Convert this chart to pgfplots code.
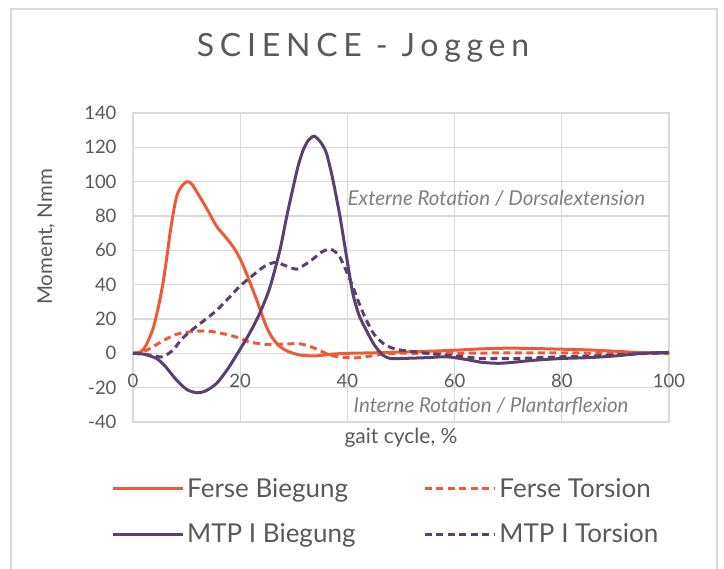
\documentclass[border=0pt]{standalone}
\usepackage{fontspec}
\setmainfont{Lato}
\usepackage{pgfplots}
\pgfplotsset{compat=1.18}

\definecolor{ferse}{HTML}{EE5A35}
\definecolor{mtp}{HTML}{5B3F6E}
\definecolor{txt}{HTML}{595959}
\definecolor{note}{HTML}{7F7F7F}
\definecolor{gridc}{HTML}{D9D9D9}

\begin{document}
\begin{tikzpicture}
\path[use as bounding box] (0pt,0pt) rectangle (724pt,569pt);
% chart frame
\draw[gridc, line width=1.5pt] (11pt,-5pt) -- (11pt,560pt) -- (717pt,560pt) -- (717pt,-5pt);
\node[txt, font=\fontsize{32}{36}\selectfont\addfontfeatures{LetterSpace=18}] at (363pt,521pt) {SCIENCE - Joggen};

\begin{axis}[
  at={(133pt,147pt)}, anchor=south west,
  scale only axis, width=536pt, height=309pt,
  xmin=0, xmax=100, ymin=-40, ymax=140,
  xtick={0,20,...,100}, ytick={-40,-20,...,140},
  grid=major, grid style={gridc, line width=1.2pt},
  axis line style={gridc, line width=1.2pt},
  major tick length=0pt,
  tick label style={txt, font=\fontsize{18.5}{22}\selectfont},
  /pgf/number format/assume math mode=true,
  xticklabel style={yshift=51pt},
  yticklabel style={xshift=-13pt},
  xlabel={gait cycle, \%},
  xlabel style={txt, font=\fontsize{21}{24}\selectfont, at={(axis description cs:0.5,-0.052)}, anchor=center},
  ylabel={Moment, Nmm},
  ylabel style={txt, font=\fontsize{20.5}{24}\selectfont, at={(axis description cs:-0.162,0.599)}, anchor=center},
  legend columns=2,
  legend cell align=left,
  legend style={at={(axis description cs:-0.041,-0.172)}, anchor=north west, draw=none, fill=none,
    inner sep=0pt, row sep=19pt,
    font=\fontsize{26}{30}\selectfont, text=txt,
    nodes={inner sep=3pt},
    /tikz/every even column/.append style={column sep=65pt}},
  legend image code/.code={\draw[#1] (0pt,0pt) -- (70pt,0pt);},
  every axis plot/.append style={line width=3pt, smooth, tension=0.45},
]
\addplot[ferse] coordinates {
(0,0) (1.5,1) (2.5,5) (3.8,15) (4.8,28) (5.6,41) (6.4,58) (7.1,74) (8.1,91) (9,97) (10.1,100)
(11,98.5) (12.5,91) (14,83) (15.6,74) (17.2,68) (18.7,62) (20,55) (21.1,47) (22.1,39) (23.1,31)
(24,23) (24.9,15.5) (26,9) (27.4,4) (29,1) (31.2,-1) (34,-1.5) (37,-0.5) (40,0) (45,0.3) (50,0.8)
(55,1.2) (60,1.8) (65,2.6) (70,3) (75,2.8) (80,2.4) (85,2) (90,1.2) (95,0.4) (100,0)
};
\addlegendentry{Ferse Biegung}
\addplot[ferse, dash pattern=on 7pt off 4.5pt] coordinates {
(0,0) (2,1) (3.8,4) (6,8) (8,11) (9.4,12) (11.5,12.8) (13.7,13) (16,12) (18.7,10) (20.5,8)
(21.8,6.5) (24,5.5) (26.1,5) (28.5,5.5) (31.2,5.5) (33,4) (34.2,2.5) (36,0) (37.3,-1.5) (40,-2.5)
(42.3,-2.5) (45.4,-1) (48,0) (55,0) (60,0) (70,0.3) (80,0.3) (90,0) (100,0)
};
\addlegendentry{Ferse Torsion}
\addplot[mtp] coordinates {
(0,0) (2,-0.5) (4.4,-3) (6,-7.5) (8.1,-15.5) (10,-21) (11.9,-23) (13.5,-22) (15.6,-17.5)
(17.7,-9) (19.9,2) (21.8,12) (23.6,23) (25.5,38) (27.4,60) (28.7,80) (29.9,97) (30.8,109)
(31.7,118) (32.7,124) (33.8,126.5) (35,123) (36.1,116.5) (37.3,101) (38.6,80) (39.8,57) (41,35)
(42.2,22) (43.5,13.6) (45,5) (46.6,-1) (48,-3) (50,-3) (55,-2.5) (58.5,-2) (62,-3.5) (65,-5.2)
(67.8,-5.8) (70,-5.5) (75,-4) (80,-3) (85,-2.5) (90,-1.5) (95,0) (100,0.5)
};
\addlegendentry{MTP I Biegung}
\addplot[mtp, dash pattern=on 7pt off 4.5pt] coordinates {
(0,0) (2,-0.5) (4,-1.5) (5.6,-2) (7.5,2) (9,8) (10.6,12.6) (13,18.5) (15.6,25) (17.8,32)
(19.9,39) (21.8,44) (23.6,48.6) (25,51.5) (26.7,53) (28.5,51) (30.5,49) (32,51.5) (33.6,55)
(35.2,59) (36.7,60.8) (37.8,59) (38.6,56) (39.8,48) (41,39) (42.2,29) (43.5,19.5) (45,11)
(46.6,6) (48,3.5) (49.7,2) (52.3,1) (55,0) (60,-1.5) (65,-3) (67.8,-3) (72,-3) (80,-2)
(86,-1.5) (92.7,-0.5) (100,0.5)
};
\addlegendentry{MTP I Torsion}
\node[note, font=\fontsize{20.5}{24}\selectfont\itshape] at (axis cs:67.8,90) {Externe Rotation / Dorsalextension};
\node[note, font=\fontsize{20.5}{24}\selectfont\itshape] at (axis cs:66.8,-30.6) {Interne Rotation / Plantarflexion};
\end{axis}
\end{tikzpicture}
\end{document}
